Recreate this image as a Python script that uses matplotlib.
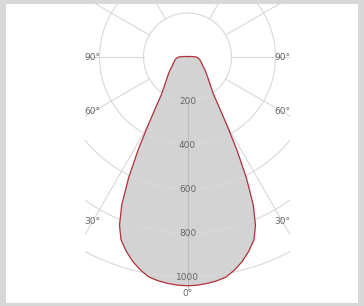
import numpy as np
import matplotlib
matplotlib.use("Agg")
import matplotlib.pyplot as plt
from matplotlib.patches import Rectangle

# Luminous intensity distribution (cd), symmetric, gamma angle from nadir
angles_deg = [0, 2.5, 5, 7.5, 10, 12.5, 15, 17.5, 20, 22, 24, 26, 28, 30, 32, 35,
              40, 45, 50, 55, 60, 65, 70, 75, 80, 85, 90, 95, 100, 110, 120, 135,
              150, 165, 180]
intensity_cd = [1040, 1038, 1033, 1026, 1015, 991, 962, 926, 884, 825, 735, 610,
                478, 360, 278, 205, 158, 130, 110, 94, 80, 72, 66, 60, 55, 48, 40,
                24, 14, 7, 4, 3, 2, 2, 2]

ring_values = [200, 400, 600, 800, 1000]
ring_labels = ["200", "400", "600", "800", "1000"]
spoke_angles = [30, 60, 90, 120, 150]
angle_label_deg = [30, 60, 90]
angle_label_txt = ["30°", "60°", "90°"]
zero_label = "0°"

grid_col = "#d9d9d9"
fill_col = "#d3d3d3"
line_col = "#b0303a"
text_col = "#666666"

W, H = 364, 306
fig = plt.figure(figsize=(W / 100, H / 100), dpi=100, facecolor="#d8d8d8")
fig.patches.append(Rectangle((6 / W, 3 / H), 352 / W, 299 / H, transform=fig.transFigure,
                             facecolor="white", edgecolor="none", zorder=-5))

ax = fig.add_axes([85 / W, 6 / H, 205 / W, 296 / H])
ax.set_zorder(2)
ax.set_xlim(-466, 466)
ax.set_ylim(-1104.5, 241)
ax.axis("off")
ax.patch.set_visible(False)

# spokes (under the fill)
for a in spoke_angles:
    t = np.radians(a)
    for s in (-1, 1):
        r = np.array([200, 3000])
        ax.plot(s * r * np.sin(t), -r * np.cos(t), color=grid_col, lw=0.8, zorder=1)

# intensity curve, mirrored
th = np.radians(np.array(angles_deg, dtype=float))
I = np.array(intensity_cd, dtype=float)
th_full = np.concatenate([-th[::-1], th[1:]])
I_full = np.concatenate([I[::-1], I[1:]])
x = I_full * np.sin(th_full)
y = -I_full * np.cos(th_full)
ax.fill(x, y, facecolor=fill_col, edgecolor="none", zorder=2)

# rings
phi = np.linspace(0, 2 * np.pi, 721)
for v in ring_values:
    ax.plot(v * np.sin(phi), v * np.cos(phi), color=grid_col, lw=0.8, zorder=3)

# 0 deg axis
ax.plot([0, 0], [-200, -1055], color="#bdbdbd", lw=0.8, zorder=3)

ax.plot(x, y, color=line_col, lw=0.9, zorder=4)

for v, lab in zip(ring_values, ring_labels):
    ax.text(0, -v, lab, ha="center", va="center", fontsize=6.5, color=text_col, zorder=5)

xl = 432
for a, lab in zip(angle_label_deg, angle_label_txt):
    t = np.radians(a)
    yl = -xl * np.cos(t) / np.sin(t)
    for s in (-1, 1):
        ax.text(s * xl, yl, lab, ha="center", va="center", fontsize=6.5, color=text_col, zorder=5)

ax.text(0, -1077, zero_label, ha="center", va="center", fontsize=6.5, color=text_col, zorder=5)

fig.savefig("out.png", dpi=100, facecolor=fig.get_facecolor())
